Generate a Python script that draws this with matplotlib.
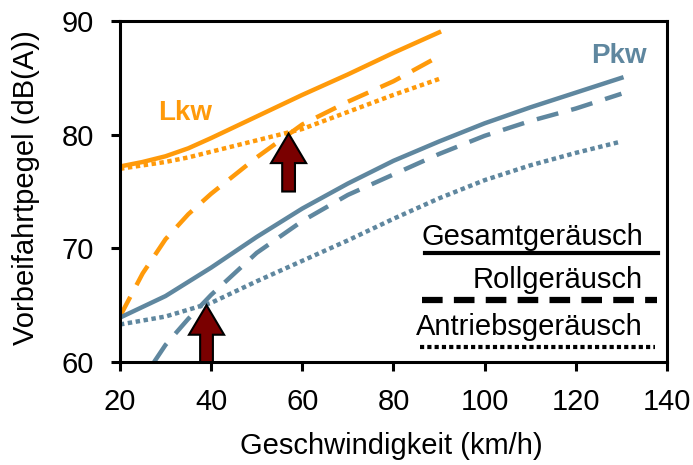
import matplotlib.pyplot as plt

plt.rcParams['font.family'] = ['Liberation Sans', 'DejaVu Sans']

# Lkw (truck) curves
lkw_speed = [20, 25, 30, 35, 40, 50, 60, 70, 80, 90]
lkw_total = [77.2, 77.6, 78.1, 78.8, 79.7, 81.6, 83.5, 85.3, 87.2, 89.0]
lkw_roll = [64.0, 67.8, 70.8, 73.0, 74.8, 78.0, 80.9, 82.9, 84.7, 86.9]
lkw_drive = [77.0, 77.3, 77.6, 78.0, 78.5, 79.5, 80.5, 82.0, 83.5, 84.9]

# Pkw (car) curves
pkw_speed = [20, 30, 40, 50, 60, 70, 80, 90, 100, 110, 120, 130]
pkw_total = [63.9, 65.8, 68.3, 71.0, 73.5, 75.7, 77.7, 79.4, 81.0, 82.4, 83.7, 85.0]
pkw_drive = [63.3, 64.0, 65.2, 67.1, 68.9, 70.7, 72.6, 74.4, 76.0, 77.3, 78.4, 79.4]
pkw_roll_speed = [27.5, 30, 35, 40, 50, 60, 70, 80, 90, 100, 110, 120, 130]
pkw_roll = [60.0, 61.5, 63.8, 65.9, 69.6, 72.4, 74.7, 76.5, 78.3, 79.9, 81.2, 82.3, 83.6]

# crossing points (arrows)
arrow_x = [57, 39]
arrow_from = [75.0, 60.0]
arrow_to = [80.1, 65.0]

legend_labels = ['Gesamtgeräusch', 'Rollgeräusch', 'Antriebsgeräusch']

orange = '#FF9A0A'
blue = '#5F879F'

fig = plt.figure(figsize=(6.93, 4.65), dpi=100)
ax = fig.add_axes([0.173, 0.2215, 0.7895, 0.7333])

lw = 3.2
ax.plot(lkw_speed, lkw_total, color=orange, lw=lw)
ax.plot(lkw_speed, lkw_roll, color=orange, lw=lw, dashes=(5, 3))
ax.plot(lkw_speed, lkw_drive, color=orange, lw=lw, dashes=(1, 0.8), dash_capstyle='butt')

ax.plot(pkw_speed, pkw_total, color=blue, lw=lw)
ax.plot(pkw_roll_speed, pkw_roll, color=blue, lw=lw, dashes=(5, 3))
ax.plot(pkw_speed, pkw_drive, color=blue, lw=lw, dashes=(1, 0.8), dash_capstyle='butt')

for x, y0, y1 in zip(arrow_x, arrow_from, arrow_to):
    ax.arrow(x, y0, 0, y1 - y0, width=2.8, head_width=7.7, head_length=2.6,
             length_includes_head=True, fc='#7A0000', ec='black', lw=1.5, zorder=5)

ax.text(34.3, 81.9, 'Lkw', color=orange, fontsize=20, fontweight='bold', ha='center', va='center')
ax.text(129.4, 86.9, 'Pkw', color=blue, fontsize=20, fontweight='bold', ha='center', va='center')

# hand-made legend
ax.text(134.7, 71.0, legend_labels[0], fontsize=21, ha='right', va='center')
ax.plot([86.9, 138.0], [69.6, 69.6], color='black', lw=3)
ax.text(134.7, 67.2, legend_labels[1], fontsize=21, ha='right', va='center')
ax.plot([86.2, 137.8], [65.45, 65.45], color='black', lw=4.5, dashes=(3.3, 1.8))
ax.text(134.7, 63.1, legend_labels[2], fontsize=21, ha='right', va='center')
ax.plot([85.8, 137.3], [61.3, 61.3], color='black', lw=3, dashes=(1, 0.75), dash_capstyle='butt')

ax.set_xlim(20, 140)
ax.set_ylim(60, 90)
ax.set_xticks(range(20, 141, 20))
ax.set_yticks(range(60, 91, 10))
ax.tick_params(labelsize=21, width=2.2, length=6.5, direction='out', pad=12)
for s in ax.spines.values():
    s.set_linewidth(2.2)

ax.set_xlabel('Geschwindigkeit (km/h)', fontsize=21, va='center')
ax.xaxis.set_label_coords(0.496, -0.246)
ax.set_ylabel('Vorbeifahrtpegel (dB(A))', fontsize=21, va='center')
ax.yaxis.set_label_coords(-0.172, 0.51)

fig.savefig('out.png', dpi=100)
